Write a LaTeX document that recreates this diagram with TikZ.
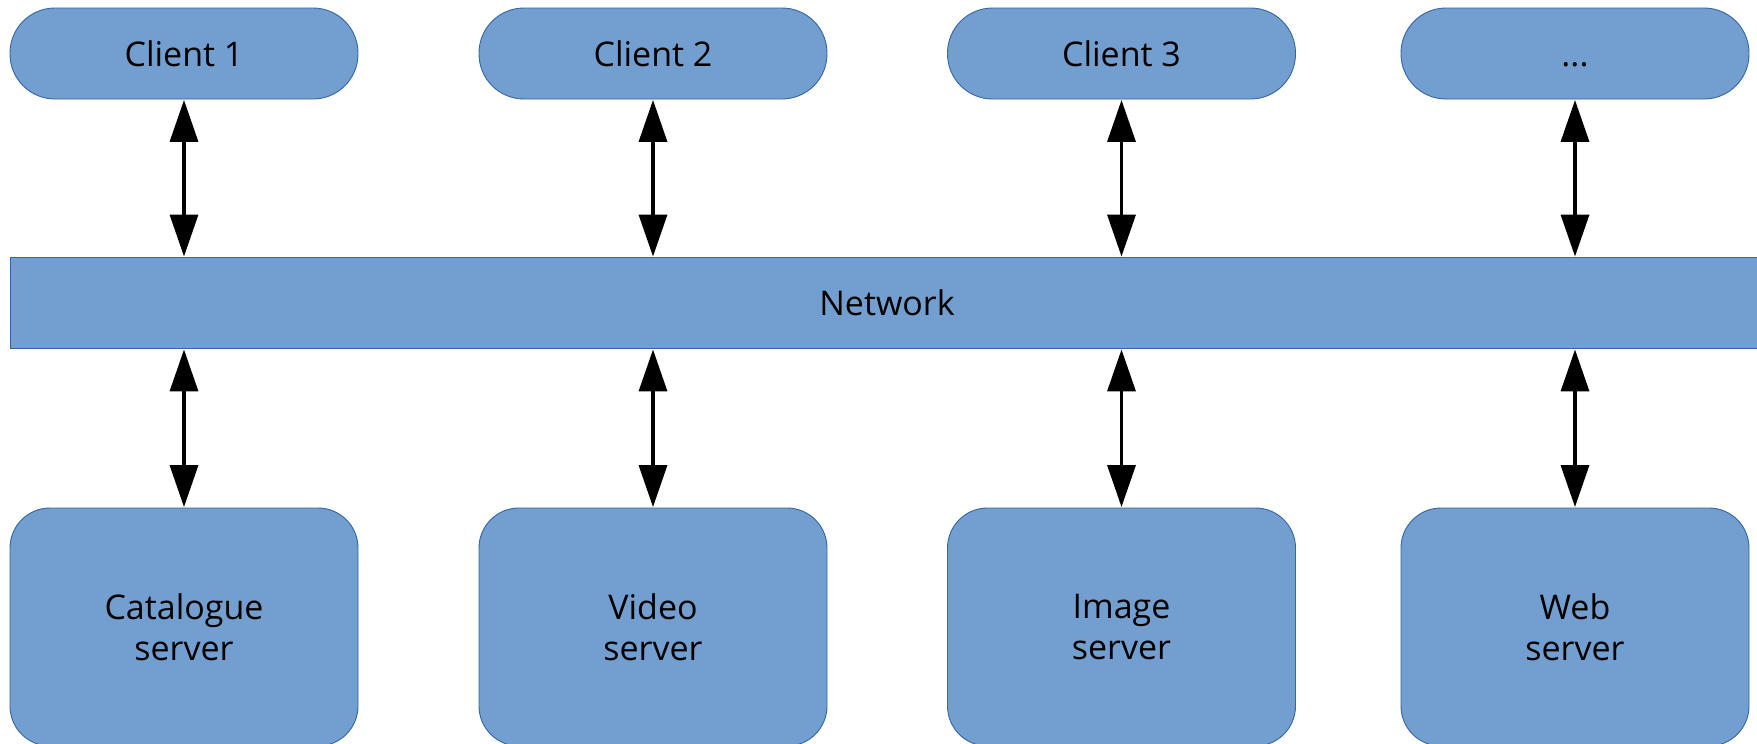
\documentclass[tikz,border=0pt]{standalone}
\usepackage{fontspec}
\setmainfont{Open Sans}
\usetikzlibrary{arrows.meta}
\definecolor{boxfill}{HTML}{729FCF}
\definecolor{boxline}{HTML}{3465A4}
\tikzset{
  client/.style={draw=boxline, fill=boxfill, line width=0.9pt, rectangle, rounded corners=45pt,
    minimum width=348pt, minimum height=91pt, inner sep=0pt, text height=25pt, text depth=0pt,
    font=\fontsize{34}{40}\selectfont},
  server/.style={draw=boxline, fill=boxfill, line width=0.9pt, rectangle, rounded corners=40pt,
    minimum width=348pt, minimum height=238pt, inner sep=0pt, align=center, font=\fontsize{34}{41}\selectfont},
  netbox/.style={draw=boxline, fill=boxfill, line width=0.9pt, rectangle,
    minimum width=1754pt, minimum height=91pt, inner sep=0pt, text height=25pt, text depth=0pt,
    font=\fontsize{34}{40}\selectfont},
  link/.style={line width=3.5pt, {Triangle[length=42pt,width=28pt]}-{Triangle[length=42pt,width=28pt]}, shorten <=0.5pt, shorten >=0.5pt}
}
\begin{document}
\begin{tikzpicture}[x=1pt,y=-1pt]
\useasboundingbox (0,0) rectangle (1757,744);
\clip (0,0) rectangle (1757,744);
\node[client] (c1) at (184,53.5) {Client 1};
\node[client] (c2) at (653,53.5) {Client 2};
\node[client] (c3) at (1121.5,53.5) {Client 3};
\node[client] (c4) at (1575,53.5) {...};
\node[netbox] (net) at (887,303) {Network};
\node[server] (s1) at (184,627) {Catalogue\\server};
\node[server] (s2) at (653,627) {Video\\server};
\node[server] (s3) at (1121.5,627) {Image\\server};
\node[server] (s4) at (1575,627) {Web\\server};
\foreach \i in {1,2,3,4}{
  \draw[link] (c\i.south) -- (c\i.south |- net.north);
  \draw[link] (s\i.north |- net.south) -- (s\i.north);
}
\end{tikzpicture}
\end{document}
